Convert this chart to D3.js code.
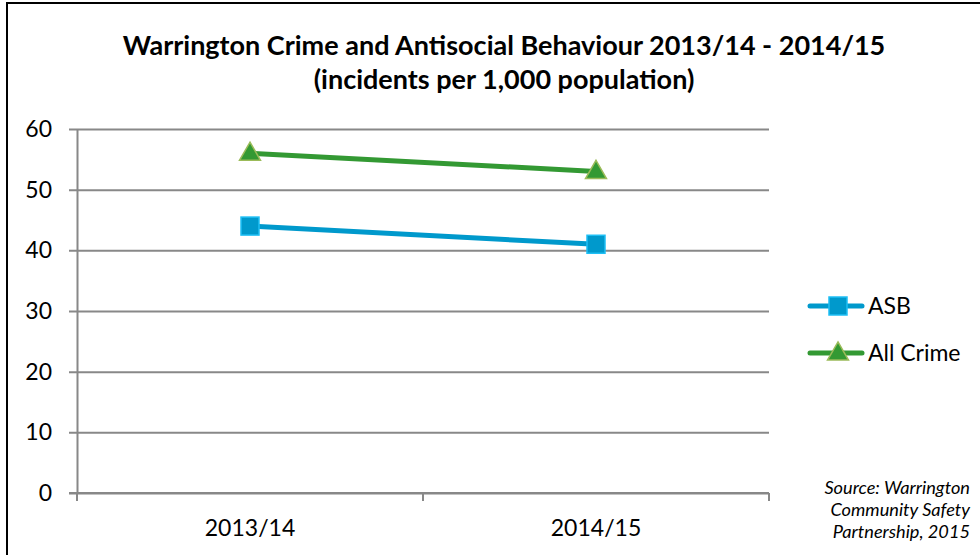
<!DOCTYPE html>
<html>
<head>
<meta charset="utf-8">
<script src="https://cdn.jsdelivr.net/npm/d3@7"></script>
<style>
  html, body { margin: 0; padding: 0; background: #fff; }
  svg { display: block; }
  text { font-family: "Lato", "Open Sans", sans-serif; fill: #000; }
</style>
</head>
<body>
<svg id="chart" width="980" height="555"></svg>
<script>
// Data
const categories = ["2013/14", "2014/15"];
const asbValues = [44, 41];
const crimeValues = [56, 53];
const yTicks = [0, 10, 20, 30, 40, 50, 60];
const seriesNames = ["ASB", "All Crime"];
const titleLines = ["Warrington Crime and Antisocial Behaviour 2013/14 - 2014/15", "(incidents per 1,000 population)"];
const sourceLines = ["Source: Warrington", "Community Safety", "Partnership, 2015"];

const svg = d3.select("#chart");
const W = 980, H = 555;

// Outer frame
svg.append("rect")
  .attr("x", 7).attr("y", 3).attr("width", W + 10).attr("height", H + 10)
  .attr("fill", "#fff").attr("stroke", "#000").attr("stroke-width", 2);

// Title
svg.append("g").selectAll("text").data(titleLines).join("text")
  .attr("x", 504).attr("y", (d, i) => 55 + i * 34)
  .attr("text-anchor", "middle")
  .attr("font-size", 27).attr("font-weight", "bold")
  .text(d => d);

// Plot area
const plot = { left: 77, right: 769, top: 129, bottom: 493 };
const x = d3.scaleBand().domain(categories).range([plot.left, plot.right]).padding(0);
const y = d3.scaleLinear().domain([0, 60]).range([plot.bottom, plot.top]);
const gridColor = "#888";

// Horizontal gridlines with short left tick marks
const yAxis = d3.axisLeft(y).tickValues(yTicks)
  .tickSize(-(plot.right - plot.left)).tickSizeOuter(0).tickPadding(25)
  .tickFormat(d3.format("d"));
const gy = svg.append("g").attr("transform", `translate(${plot.left},0)`).call(yAxis);
gy.select(".domain").attr("stroke", gridColor).attr("stroke-width", 2);
gy.selectAll(".tick line").attr("stroke", gridColor).attr("stroke-width", 2).attr("x1", -8);
gy.selectAll(".tick text").attr("font-size", 23).attr("fill", "#000")
  .attr("font-family", "Lato, 'Open Sans', sans-serif");

// Category axis with ticks at band boundaries
const gx = svg.append("g").attr("transform", `translate(0,${plot.bottom})`);
gx.append("line").attr("x1", plot.left - 8).attr("x2", plot.right)
  .attr("stroke", gridColor).attr("stroke-width", 2);
const bounds = [plot.left, ...categories.slice(1).map(c => x(c)), plot.right];
gx.selectAll("line.tk").data(bounds).join("line").attr("class", "tk")
  .attr("x1", d => d).attr("x2", d => d).attr("y1", 0).attr("y2", 8)
  .attr("stroke", gridColor).attr("stroke-width", 2);
gx.selectAll("text").data(categories).join("text")
  .attr("x", d => x(d) + x.bandwidth() / 2).attr("y", 43)
  .attr("text-anchor", "middle").attr("font-size", 23).text(d => d);

const cx = c => x(c) + x.bandwidth() / 2;
const line = d3.line().x((d, i) => cx(categories[i])).y(d => y(d));

const blue = "#0099CC", blueEdge = "#1EBFF5";
const green = "#339933", greenEdge = "#9BBB59";

// ASB series
svg.append("path").datum(asbValues).attr("d", line)
  .attr("fill", "none").attr("stroke", blue).attr("stroke-width", 5);
svg.append("g").selectAll("rect").data(asbValues).join("rect")
  .attr("x", (d, i) => cx(categories[i]) - 9).attr("y", d => y(d) - 9)
  .attr("width", 18).attr("height", 18)
  .attr("fill", blue).attr("stroke", blueEdge).attr("stroke-width", 1.5);

// All Crime series
const tri = d3.symbol().type(d3.symbolTriangle).size(190);
svg.append("path").datum(crimeValues).attr("d", line)
  .attr("fill", "none").attr("stroke", green).attr("stroke-width", 5);
svg.append("g").selectAll("path").data(crimeValues).join("path")
  .attr("d", tri)
  .attr("transform", (d, i) => `translate(${cx(categories[i])},${y(d) + 1})`)
  .attr("fill", green).attr("stroke", greenEdge).attr("stroke-width", 1.5);

// Legend
const legend = svg.append("g");
const legendY = [306, 353];
seriesNames.forEach((name, i) => {
  const g = legend.append("g").attr("transform", `translate(0,${legendY[i]})`);
  const col = i === 0 ? blue : green;
  g.append("line").attr("x1", 810).attr("x2", 862).attr("stroke", col)
    .attr("stroke-width", 5).attr("stroke-linecap", "round");
  if (i === 0) {
    g.append("rect").attr("x", 829).attr("y", -9).attr("width", 18).attr("height", 18)
      .attr("fill", blue).attr("stroke", blueEdge).attr("stroke-width", 1.5);
  } else {
    g.append("path").attr("d", tri).attr("transform", "translate(838,1)")
      .attr("fill", green).attr("stroke", greenEdge).attr("stroke-width", 1.5);
  }
  g.append("text").attr("x", 868).attr("y", 8).attr("font-size", 23).text(name);
});

// Source note
svg.append("g").selectAll("text").data(sourceLines).join("text")
  .attr("x", 970).attr("y", (d, i) => 494 + i * 22)
  .attr("text-anchor", "end").attr("font-size", 18.2).attr("font-style", "italic")
  .text(d => d);
</script>
</body>
</html>
